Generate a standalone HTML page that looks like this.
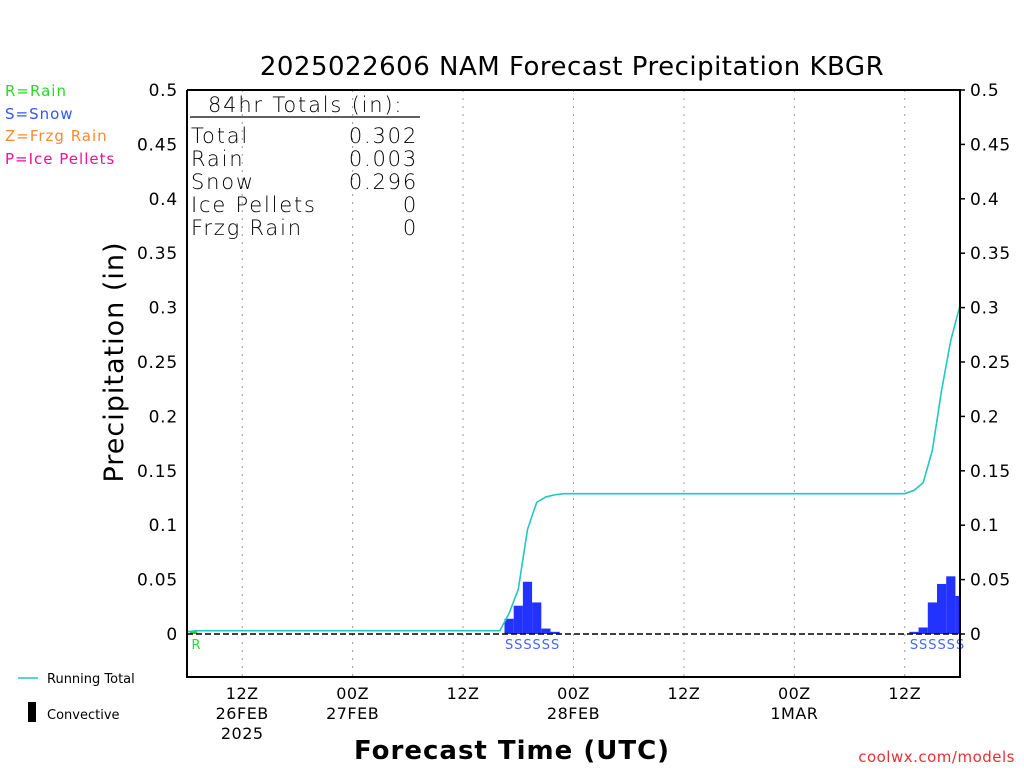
<!DOCTYPE html>
<html><head><meta charset="utf-8"><style>
body{margin:0;background:#fff}
svg text{font-family:"DejaVu Sans","Liberation Sans",sans-serif}
</style></head><body>
<svg id="c" width="1024" height="768" xmlns="http://www.w3.org/2000/svg">
<rect width="1024" height="768" fill="#fff"/>
<text x="572" y="75" font-size="26" text-anchor="middle" letter-spacing="0.5">2025022606 NAM Forecast Precipitation KBGR</text>
<g font-size="15" letter-spacing="1">
<text x="5" y="96" fill="#22dd22">R=Rain</text>
<text x="5" y="119" fill="#3355ff">S=Snow</text>
<text x="5" y="141" fill="#ff8833">Z=Frzg Rain</text>
<text x="5" y="164" fill="#ee1199">P=Ice Pellets</text>
</g>
<g id="grid"></g>
<g id="marks"></g>
<g id="axes"></g>
<g font-size="21" font-weight="300" letter-spacing="1.8">
<text x="208" y="112">84hr Totals (in):</text>
<line x1="190" y1="117" x2="420" y2="117" stroke="#000" stroke-width="1.2"/>
<text x="191" y="143">Total</text><text x="418" y="143" text-anchor="end">0.302</text>
<text x="191" y="166">Rain</text><text x="418" y="166" text-anchor="end">0.003</text>
<text x="191" y="189">Snow</text><text x="418" y="189" text-anchor="end">0.296</text>
<text x="191" y="212">Ice Pellets</text><text x="418" y="212" text-anchor="end">0</text>
<text x="191" y="235">Frzg Rain</text><text x="418" y="235" text-anchor="end">0</text>
</g>
<text transform="translate(123,362) rotate(-90)" font-size="27" letter-spacing="1" text-anchor="middle">Precipitation (in)</text>
<text x="512" y="759" font-size="26" font-weight="bold" text-anchor="middle" letter-spacing="1">Forecast Time (UTC)</text>
<line x1="18" y1="678" x2="38" y2="678" stroke="#22c7c0" stroke-width="1.5"/>
<text x="47" y="683" font-size="13">Running Total</text>
<rect x="28" y="702" width="8" height="20" fill="#000"/>
<text x="47" y="719" font-size="13">Convective</text>
<text x="1015" y="762" font-size="15" fill="#e83030" text-anchor="end" letter-spacing="0.5">coolwx.com/models</text>
</svg>
<script>
const yTicks=[0,0.05,0.1,0.15,0.2,0.25,0.3,0.35,0.4,0.45,0.5];
const xTickHours=[6,18,30,42,54,66,78];
const xTickTime=["12Z","00Z","12Z","00Z","12Z","00Z","12Z"];
const xTickDate=["26FEB","27FEB","","28FEB","","1MAR",""];
const xTickYear=["2025","","","","","",""];
const snowHours=[35,36,37,38,39,40,79,80,81,82,83,84];
const snowVals=[0.014,0.026,0.048,0.029,0.005,0.002,0.002,0.006,0.029,0.046,0.053,0.035];
const rainHours=[0];
const rainVals=[0.003];
const totHours=[0,1,34,35,36,37,38,39,40,41,78,79,80,81,82,83,84];
const totVals=[0.002,0.003,0.003,0.019,0.041,0.096,0.121,0.126,0.128,0.129,0.129,0.132,0.139,0.169,0.224,0.270,0.302];
const X0=187,X1=960,Y0=634,Y1=90,YB=677;
const xs=h=>X0+(X1-X0)*h/84, ys=v=>Y0-(Y0-Y1)*v/0.5;
const NS="http://www.w3.org/2000/svg";
function mk(t,a,p){const e=document.createElementNS(NS,t);for(const k in a)e.setAttribute(k,a[k]);p.appendChild(e);return e;}
const grid=document.getElementById('grid'),marks=document.getElementById('marks'),axes=document.getElementById('axes');
xTickHours.forEach((h,i)=>{
 const g=mk('line',{x1:xs(h),x2:xs(h),y1:Y1,y2:YB,stroke:'#999','stroke-dasharray':'2,6'},grid);
 
 
 [xTickTime[i],xTickDate[i],xTickYear[i]].forEach((s,j)=>{if(!s)return;
  const t=mk('text',{x:xs(h),y:699+j*20,'font-size':16,'text-anchor':'middle','letter-spacing':0.5},axes);t.textContent=s;
  
  });
});
yTicks.forEach(v=>{
 const l=mk('text',{x:178,y:ys(v)+6,'font-size':17,'text-anchor':'end','letter-spacing':0.8},axes);l.textContent=String(v);
 
 
 const r=mk('text',{x:970,y:ys(v)+6,'font-size':17,'letter-spacing':0.8},axes);r.textContent=String(v);
 
 
 const tk=mk('line',{x1:X1,x2:X1+5,y1:ys(v),y2:ys(v),stroke:'#000','stroke-width':1.5},axes);
 
 
});
const bw=(X1-X0)/84;
snowHours.forEach((h,i)=>{
 const x=xs(h)-bw/2,w=Math.min(bw,X1-x);
 const b=mk('rect',{x:x,y:ys(snowVals[i]),width:w,height:Y0-ys(snowVals[i]),fill:'#2233ff'},marks);
 
 
 const s=mk('text',{x:xs(h),y:Y0+15,'font-size':13,fill:'#4466ff','text-anchor':'middle'},marks);s.textContent='S';
 
 
});
rainHours.forEach((h,i)=>{
 const b=mk('rect',{x:xs(h)+3,y:ys(rainVals[i]),width:bw-2,height:Y0-ys(rainVals[i]),fill:'#22cc22'},marks);
 
 
 const s=mk('text',{x:xs(h)+9,y:Y0+15,'font-size':13,fill:'#22dd22','text-anchor':'middle'},marks);s.textContent='R';
 
 
});
const zl=mk('line',{x1:X0,x2:X1,y1:Y0,y2:Y0,stroke:'#000','stroke-width':1.5,'stroke-dasharray':'6,3'},marks);


const pl=mk('polyline',{points:totHours.map((h,i)=>xs(h)+','+ys(totVals[i])).join(' '),fill:'none',stroke:'#22c7c0','stroke-width':1.6},marks);


const ax=mk('path',{d:`M${X0},${Y1}V${YB}H${X1}V${Y1}H${X0}`,fill:'none',stroke:'#000','stroke-width':2},axes);


</script>
</body></html>
